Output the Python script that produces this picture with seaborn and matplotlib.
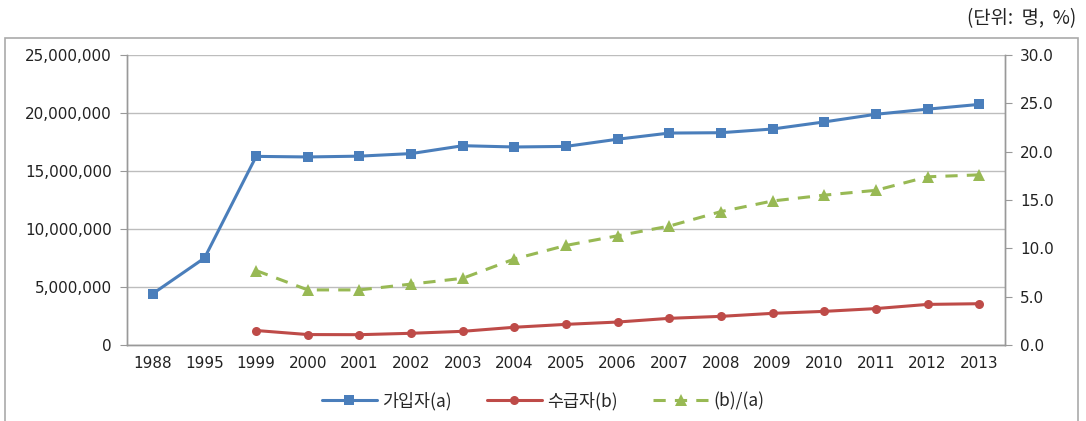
import numpy as np
import pandas as pd
import matplotlib.pyplot as plt
import seaborn as sns
from matplotlib.patches import Rectangle
from matplotlib.ticker import FuncFormatter, FixedLocator

# data
years = ['1988', '1995', '1999', '2000', '2001', '2002', '2003', '2004', '2005',
         '2006', '2007', '2008', '2009', '2010', '2011', '2012', '2013']
members = [4430000, 7500000, 16260000, 16210000, 16280000, 16500000, 17180000,
           17070000, 17120000, 17740000, 18270000, 18300000, 18620000, 19230000,
           19890000, 20330000, 20740000]
recipients = [np.nan, np.nan, 1250000, 900000, 890000, 1010000, 1180000, 1530000,
              1780000, 1980000, 2300000, 2470000, 2730000, 2900000, 3140000,
              3500000, 3560000]
ratio = [np.nan, np.nan, 7.7, 5.7, 5.7, 6.3, 6.9, 8.9, 10.3, 11.3, 12.3, 13.8,
         14.9, 15.5, 16.0, 17.4, 17.6]

df = pd.DataFrame({'year': years, 'members': members,
                   'recipients': recipients, 'ratio': ratio})
df['pos'] = np.arange(len(df))

sns.set_style('white')
plt.rcParams['font.family'] = ['Noto Sans CJK KR', 'DejaVu Sans']

blue = '#4A7EBB'
red = '#BE4B48'
green = '#98B954'

fig = plt.figure(figsize=(10.86, 4.21), dpi=100)
ax = fig.add_axes([0.117, 0.1805, 0.8084, 0.6889])
ax2 = ax.twinx()

sns.lineplot(data=df, x='pos', y='members', ax=ax, color=blue, marker='s',
             markersize=7, markeredgewidth=0, linewidth=2.2, label='가입자(a)')
sns.lineplot(data=df.dropna(), x='pos', y='recipients', ax=ax, color=red, marker='o',
             markersize=6.5, markeredgewidth=0, linewidth=2.2, label='수급자(b)')
sns.lineplot(data=df.dropna(), x='pos', y='ratio', ax=ax2, color=green, marker='^',
             markersize=9, markeredgewidth=0, linewidth=2.2, dashes=(4, 3),
             label='(b)/(a)')

n = len(years)
ax.set_xlim(-0.5, n - 0.5)
ax.set_ylim(0, 25000000)
ax2.set_ylim(0, 30)
ax.set_yticks(np.arange(0, 25000001, 5000000))
ax2.set_yticks(np.arange(0, 30.1, 5))
ax.yaxis.set_major_formatter(FuncFormatter(lambda v, p: f'{int(v):,}'))
ax2.yaxis.set_major_formatter(FuncFormatter(lambda v, p: f'{v:.1f}'))
ax.set_xticks(df['pos'])
ax.set_xticklabels(years)
ax.xaxis.set_minor_locator(FixedLocator(np.arange(-0.5, n, 1)))
ax.tick_params(axis='x', which='major', length=0, pad=8, colors='#222222',
               labelsize=11, labelfontfamily='DejaVu Sans')
ax.tick_params(axis='x', which='minor', length=5, color='#999999', direction='out')
for a in (ax, ax2):
    a.tick_params(axis='y', length=5, direction='out', colors='#222222', pad=6,
                  labelsize=11, labelfontfamily='DejaVu Sans')
    a.tick_params(axis='y', color='#999999')
ax.set_xlabel('')
ax.set_ylabel('')
ax2.set_ylabel('')

ax.yaxis.grid(True, color='#BDBDBD', linewidth=1)
ax.set_axisbelow(True)
for a in (ax, ax2):
    a.spines['top'].set_visible(False)
    for s in ('left', 'right', 'bottom'):
        a.spines[s].set_color('#999999')
        a.spines[s].set_linewidth(1)

h1, l1 = ax.get_legend_handles_labels()
h2, l2 = ax2.get_legend_handles_labels()
ax.get_legend().remove()
ax2.get_legend().remove()
fig.legend(h1 + h2, l1 + l2, loc='center', bbox_to_anchor=(0.5, 0.047), ncol=3,
           frameon=False, fontsize=12.5, handlelength=3.2, columnspacing=2.0,
           handletextpad=0.3)

fig.text(0.991, 0.955, '(단위:  명,  %)', ha='right', va='center', fontsize=13.5,
         color='#222222')
fig.patches.append(Rectangle((0.0046, -0.2), 0.988, 1.1097, transform=fig.transFigure,
                             fill=False, edgecolor='#AAAAAA', linewidth=1.2))

fig.savefig('out.png', dpi=100)
